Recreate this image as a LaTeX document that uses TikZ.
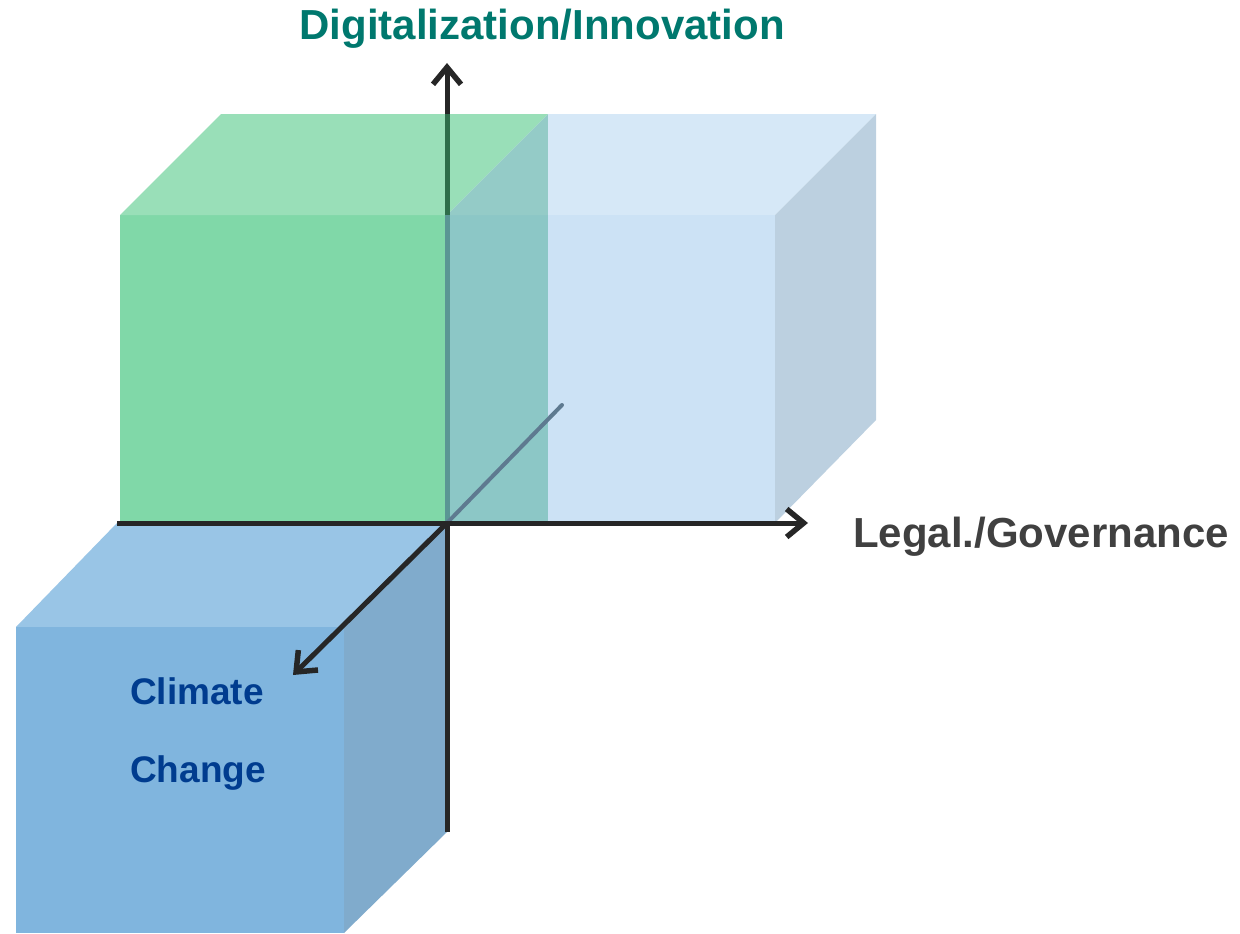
\documentclass[tikz,border=0pt]{standalone}
\usepackage{fontspec}
\setmainfont{Liberation Sans}
\usetikzlibrary{arrows.meta}
\definecolor{greenfront}{HTML}{80D8A8}
\definecolor{greentop}{HTML}{99DFB8}
\definecolor{tealtop}{HTML}{94CBC7}
\definecolor{tealfront}{HTML}{8CC7C6}
\definecolor{lbtop}{HTML}{D6E8F7}
\definecolor{lbfront}{HTML}{CCE2F5}
\definecolor{lbright}{HTML}{BCD0E0}
\definecolor{bltop}{HTML}{99C5E6}
\definecolor{blfront}{HTML}{80B5DE}
\definecolor{blright}{HTML}{80ABCC}
\definecolor{axisdark}{HTML}{262626}
\definecolor{axisgreen}{HTML}{2E6E4A}
\definecolor{axisteal}{HTML}{5A9694}
\definecolor{axisgrey}{HTML}{5E7A90}
\definecolor{digcol}{HTML}{00786E}
\definecolor{legcol}{HTML}{404040}
\definecolor{clicol}{HTML}{003C8F}
\tikzset{
  axisline/.style={line width=5pt, draw=axisdark},
  axisarrow/.style={axisline, -{Straight Barb[length=17pt,width=28pt,line width=5.5pt]}},
  biglabel/.style={font=\fontsize{42}{42}\selectfont\bfseries, inner sep=0pt},
  cclabel/.style={font=\fontsize{37}{37}\selectfont\bfseries, inner sep=0pt, text=clicol, anchor=base west}
}
\begin{document}
\begin{tikzpicture}[x=1pt,y=-1pt]
\useasboundingbox (0,0) rectangle (1240,934);
% key coordinates
\coordinate (O) at (447,523);
\coordinate (vtop) at (447,63);
\coordinate (vbot) at (447,832);
\coordinate (hleft) at (117,523);
\coordinate (hright) at (808,523);
\coordinate (dback) at (562,405);
\coordinate (dfront) at (293,675);
% green cube
\fill[greenfront] (120,215) -- (447,215) -- (447,523) -- (120,523) -- cycle;
\fill[greentop] (120,215) -- (221,114) -- (548,114) -- (447,215) -- cycle;
% overlap region
\fill[tealfront] (447,215) -- (548,215) -- (548,523) -- (447,523) -- cycle;
\fill[tealtop] (447,215) -- (548,114) -- (548,215) -- cycle;
% light blue cube
\fill[lbtop] (548,114) -- (876,114) -- (775,215) -- (548,215) -- cycle;
\fill[lbfront] (548,215) -- (775,215) -- (775,523) -- (548,523) -- cycle;
\fill[lbright] (775,215) -- (876,114) -- (876,420) -- (775,523) -- cycle;
% lower blue cube
\fill[bltop] (16,627) -- (117,523) -- (447,523) -- (344,627) -- cycle;
\fill[blfront] (16,627) -- (344,627) -- (344,933) -- (16,933) -- cycle;
\fill[blright] (344,627) -- (447,523) -- (447,832) -- (344,933) -- cycle;
% upper axis parts (seen through the cubes)
\coordinate (v1) at (447,114);
\coordinate (v2) at (447,215);
\draw[line width=5pt, axisteal] (O) -- (v2);
\draw[line width=5pt, axisgreen] (v2) -- (v1);
\draw[axisarrow] (v1) -- (vtop);
\draw[line width=4pt, axisgrey, line cap=round] (dback) -- (O);
% front axis parts
\draw[axisarrow] (hleft) -- (hright);
\draw[axisline] (O) -- (vbot);
\draw[axisarrow] (O) -- (dfront);
% labels
\node[biglabel, text=digcol, anchor=base] (dig) at (542,40) {Digitalization/Innovation};
\node[biglabel, text=legcol, anchor=base west] (leg) at (853,547) {Legal./Governance};
\node[cclabel] (cl1) at (130,704) {Climate};
\node[cclabel] (cl2) at (130,782) {Change};
\end{tikzpicture}
\end{document}
